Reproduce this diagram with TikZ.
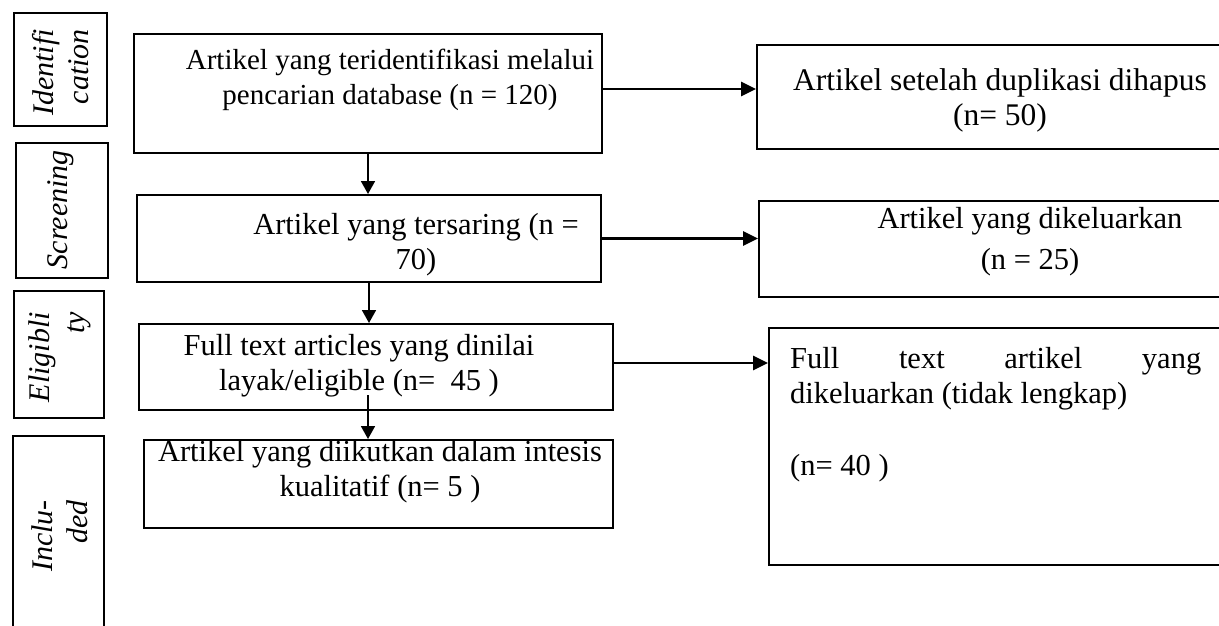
\documentclass[tikz,border=0pt]{standalone}
\usepackage{fontspec}
\setmainfont{Liberation Serif}
\usetikzlibrary{arrows.meta}
\begin{document}
\begin{tikzpicture}[x=1pt,y=-1pt,
  box/.style={draw, line width=2pt, inner sep=0pt, anchor=north west},
  txt/.style={font=\fontsize{30.5}{35}\selectfont, align=center, inner sep=0pt},
  stg/.style={font=\fontsize{30}{35}\selectfont\itshape, rotate=90, anchor=east, align=right, inner sep=0pt},
  arr/.style={line width=2.8pt, -{Triangle[length=15pt,width=14pt]}},
  varr/.style={line width=1.8pt, -{Triangle[length=13pt,width=14pt]}}]
\useasboundingbox (0,0) rectangle (1219,626);
\fill[white] (0,0) rectangle (1219,626);
\clip (0,0) rectangle (1219,626);
% stage boxes
\node[box, minimum width=93pt, minimum height=113pt] (s1) at (13,12) {};
\node[box, minimum width=92pt, minimum height=135pt] (s2) at (15,142) {};
\node[box, minimum width=90pt, minimum height=127pt] (s3) at (13,290) {};
\node[box, minimum width=91pt, minimum height=260pt] (s4) at (12,435) {};
\node[stg] (l1) at (61,29) {Identifi\\cation};
\node[stg] (l2) at (61,150) {Screening};
\node[stg] (l3) at (60,312) {Eligibli\\ty};
\node[stg] (l4) at (60,500) {Inclu-\\ded};
% main boxes
\node[box, minimum width=468pt, minimum height=119pt] (b1) at (133,33) {};
\node[box, minimum width=464pt, minimum height=87pt] (b2) at (136,194) {};
\node[box, minimum width=474pt, minimum height=86pt] (b3) at (138,323) {};
\node[box, minimum width=469pt, minimum height=88pt] (b4) at (143,439) {};
\node[txt, font=\fontsize{29}{35}\selectfont] (t1) at (390,80) {Artikel yang teridentifikasi melalui\\pencarian database (n = 120)};
\node[txt] (t2) at (416,245) {Artikel yang tersaring (n =\\70)};
\node[txt] (t3) at (359,366) {Full text articles yang dinilai\\layak/eligible (n=\ \ 45 )};
\node[txt] (t4) at (380,472) {Artikel yang diikutkan dalam intesis\\kualitatif (n= 5 )};
% right boxes
\node[box, minimum width=480pt, minimum height=104pt] (r1) at (756,44) {};
\node[box, minimum width=480pt, minimum height=96pt] (r2) at (758,200) {};
\node[box, minimum width=480pt, minimum height=237pt] (r3) at (768,327) {};
\node[txt, font=\fontsize{31.5}{35}\selectfont] (u1) at (1000,100) {Artikel setelah duplikasi dihapus\\(n= 50)};
\node[txt] (u2) at (1030,242) {Artikel yang dikeluarkan\\[6pt](n = 25)};
\node[txt, align=left, anchor=north west] (u3) at (790,347) {\makebox[411pt][s]{Full text artikel yang}\\dikeluarkan (tidak lengkap)\\[37pt](n= 40 )};
% connectors
\coordinate (c3) at (368,395);
\draw[arr] ([yshift=4.5pt]b1.east) -- ([yshift=4.5pt]b1.east -| r1.west);
\draw[arr] (b2.east) -- (b2.east -| r2.west);
\draw[arr] ([yshift=4pt]b3.east) -- ([yshift=4pt]b3.east -| r3.west);
\draw[varr] (b1.south) -- (b1.south |- b2.north);
\draw[varr] (b2.south) -- (b2.south |- b3.north);
\draw[varr] (c3) -- (c3 |- b4.north);
\end{tikzpicture}
\end{document}
